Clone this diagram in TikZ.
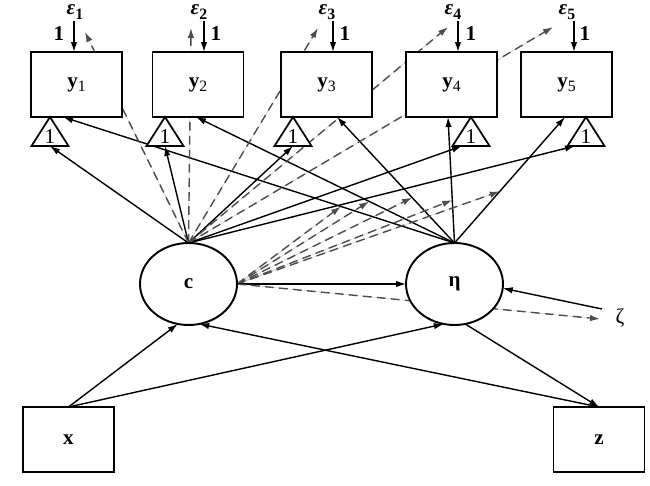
\documentclass[tikz,border=0pt]{standalone}
\usepackage{fontspec}
\setmainfont{Liberation Serif}
\usetikzlibrary{arrows.meta,shapes.geometric,calc,backgrounds}
\begin{document}
\begin{tikzpicture}[x=0.02cm,y=-0.02cm,
  every node/.style={font=\fontsize{12}{14}\selectfont},
  box/.style={draw,line width=1.1pt,fill=white,minimum width=1.82cm,minimum height=1.3cm,inner sep=0pt,outer sep=0pt,font=\fontsize{12}{14}\selectfont\bfseries},
  lat/.style={draw,ellipse,line width=1.1pt,fill=white,minimum width=1.94cm,minimum height=1.64cm,inner sep=0pt,outer sep=0pt,font=\fontsize{12}{14}\selectfont\bfseries},
  arr/.style={line width=0.8pt,-{Latex[length=2mm,width=1.3mm]}},
  darr/.style={arr,dash pattern=on 5pt off 3pt,draw=black!70,fill=black!70},
  tri/.style={line width=1pt,fill=white},
  lbl/.style={inner sep=0pt,font=\fontsize{12}{14}\selectfont\bfseries}]
\useasboundingbox (0,0) rectangle (650,486);

% observed variables
\node[box] (y1) at (76.5,84.5) {y\raisebox{-0.45ex}{\fontsize{9}{10}\selectfont\mdseries 1}};
\node[box] (y2) at (198,84.5) {y\raisebox{-0.45ex}{\fontsize{9}{10}\selectfont\mdseries 2}};
\node[box] (y3) at (326.5,84.5) {y\raisebox{-0.45ex}{\fontsize{9}{10}\selectfont\mdseries 3}};
\node[box] (y4) at (451.5,84.5) {y\raisebox{-0.45ex}{\fontsize{9}{10}\selectfont\mdseries 4}};
\node[box] (y5) at (566.5,84.5) {y\raisebox{-0.45ex}{\fontsize{9}{10}\selectfont\mdseries 5}};
\node[box] (x) at (68.5,439.5) {x};
\node[box] (z) at (599,439.5) {z};

% latent variables
\node[lat] (c) at (188.5,284) {c};
\node[lat] (eta) at (454.5,284) {η};
\node[inner sep=1pt] (zeta) at (620,318) {ζ};

% residual labels
\foreach \i/\xx/\ax/\ox in {1/75/74/59,2/199/204/216,3/327/333/345,4/453/458/471,5/567/574/585}{
  \node[inner sep=0pt] (e\i) at (\xx,12) {\textbf{\textit{ε}}\raisebox{-0.5ex}{\fontsize{9}{10}\selectfont\bfseries\i}};
  \coordinate (a\i) at (\ax,21);
  \node[lbl] (o\i) at (\ox,34) {1};
}
\foreach \i in {1,...,5}{\draw[arr] (a\i) -- (a\i |- y\i.north);}

% intercept triangles
\foreach \i/\xx in {1/50,2/165,3/293,4/471,5/586}{
  \coordinate (t\i) at (\xx,117);
  \draw[tri] (t\i) -- ++(18.5,29) -- ++(-37,0) -- cycle;
  \coordinate (tb\i) at ($(t\i)+(0,29)$);
  \node[inner sep=0pt] (n\i) at ($(t\i)+(0,20)$) {1};
}

% end points
\coordinate (ey1) at ($(y1.south)+(-13.5,0)$);
\coordinate (ey2) at ($(y2.south)+(-2,0)$);
\coordinate (ey3) at ($(y3.south)+(10.5,0)$);
\coordinate (ey4) at ($(y4.south)+(-3.5,0)$);
\coordinate (ey5) at ($(y5.south)+(-1.5,0)$);
\coordinate (d1) at (85,32);
\coordinate (d2) at (191,28);
\coordinate (d3) at (318,28);
\coordinate (d4) at (448,27);
\coordinate (d5) at (553,27);
\coordinate (zin) at (602,309);
\coordinate (zout) at (600,319);

\begin{pgfonlayer}{background}
  \foreach \i in {1,2,3}{\draw[arr] (c.north) -- (tb\i);}
  \draw[arr] (c.north) -- ($(tb4)+(-9,0)$);
  \draw[arr] (c.north) -- ($(tb5)+(-11,0)$);
  \foreach \i in {1,...,5}{\draw[arr] (eta.north) -- (ey\i);}
  \foreach \i in {1,...,5}{\draw[darr] (c.north) -- (d\i);}
  \foreach \i/\t in {1/0.29,2/0.33,3/0.36,4/0.34,5/0.41}{
    \draw[darr] (c.east) -- ($(eta.north)!\t!(ey\i)$);}
  \draw[arr] (c.east) -- (eta.west);
  \draw[darr] (c.east) -- (zout);
  \draw[arr] (zin) -- (eta.355);
  \draw[arr] (x.north) -- (c.255);
  \draw[arr] (x.north) -- (eta.255);
  \draw[arr] (z.north) -- (c.285);
  \draw[arr] (eta.285) -- (z.north);
\end{pgfonlayer}
\end{tikzpicture}
\end{document}
